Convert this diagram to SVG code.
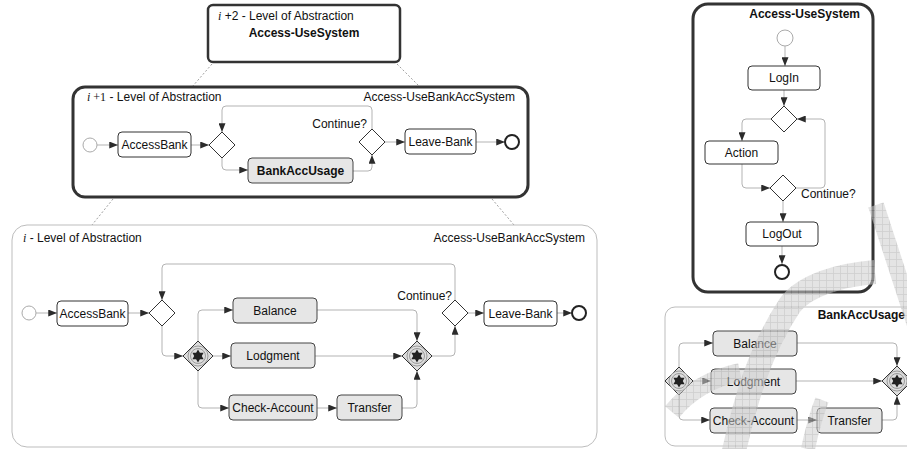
<svg xmlns="http://www.w3.org/2000/svg" width="907" height="449" viewBox="0 0 907 449">
<defs>
<marker id="ah" viewBox="0 0 10 8" refX="10" refY="4" markerWidth="9" markerHeight="7" markerUnits="userSpaceOnUse" orient="auto">
<path d="M0,0 L10,4 L0,8 z" fill="#2b2b2b"/>
</marker>
<pattern id="hatch" width="7" height="7" patternUnits="userSpaceOnUse">
<rect width="7" height="7" fill="#cfcfcf"/>
<path d="M0,0.5 H7 M0.5,0 V7" stroke="#a8a8a8" stroke-width="0.8"/>
</pattern>
<g id="star">
<circle r="10" fill="none" stroke="#9a9a9a" stroke-width="1"/>
<circle r="7.5" fill="none" stroke="#9a9a9a" stroke-width="1"/>
<polygon points="0,-6.5 1.9,-3.3 5.6,-3.3 3.8,0 5.6,3.3 1.9,3.3 0,6.5 -1.9,3.3 -5.6,3.3 -3.8,0 -5.6,-3.3 -1.9,-3.3" fill="#222"/>
</g>
</defs>
<style>
text{font-family:"Liberation Sans",Arial,sans-serif;font-size:12px;fill:#111}
.b{font-weight:bold}
.it{font-family:"Liberation Serif","Times New Roman",serif;font-style:italic}
.sf{font-family:"Liberation Serif","Times New Roman",serif}
.mid{text-anchor:middle}
.end{text-anchor:end}
.frame{fill:#fff;stroke:#333;stroke-width:3}
.lane{fill:#fff;stroke:#bdbdbd;stroke-width:1}
.task{fill:#fff;stroke:#333;stroke-width:1}
.sub{fill:#e6e6e6;stroke:#444;stroke-width:1}
.gw{fill:#fff;stroke:#333;stroke-width:1}
.pgw{fill:#dedede;stroke:#333;stroke-width:1}
.start{fill:#fff;stroke:#aaa;stroke-width:1}
.endc{fill:#fff;stroke:#222;stroke-width:2}
.c{fill:none;stroke:#b3b3b3;stroke-width:1;marker-end:url(#ah)}
.dash{stroke:#a0a0a0;stroke-width:1;stroke-dasharray:2,2}
</style>

<g id="level-links">
<line class="dash" x1="212" y1="64" x2="192" y2="87"/>
<line class="dash" x1="397" y1="64" x2="420" y2="87"/>
<line class="dash" x1="113" y1="199" x2="92" y2="225"/>
<line class="dash" x1="492" y1="199" x2="514" y2="225"/>
</g>

<g id="level-i2">
<rect x="208" y="5" width="192" height="57" rx="5" fill="#fff" stroke="#333" stroke-width="2.5"/>
<text x="218" y="20"><tspan class="it">i</tspan> +2 - Level of Abstraction</text>
<text class="b mid" x="304" y="37">Access-UseSystem</text>
</g>

<g id="level-i1">
<rect class="frame" x="73" y="87" width="455" height="110" rx="12"/>
<text x="87" y="101"><tspan class="it">i</tspan><tspan class="sf"> +1</tspan> - Level of Abstraction</text>
<text class="end" x="515" y="101">Access-UseBankAccSystem</text>
</g>
<g id="m-connectors">
<line class="c" x1="97" y1="145" x2="118" y2="145"/>
<line class="c" x1="191" y1="145" x2="209" y2="145"/>
<path class="c" d="M372,129 V110 Q372,106 368,106 H226 Q222,106 222,110 V132"/>
<path class="c" d="M222,158 V166 Q222,170 226,170 H248"/>
<path class="c" d="M353,171 H368 Q372,171 372,167 V155"/>
<line class="c" x1="385" y1="142" x2="405" y2="142"/>
<line class="c" x1="476" y1="142" x2="505" y2="142"/>
</g>
<g id="m-start"><circle class="start" cx="90" cy="145" r="7"/></g>
<g id="m-accessbank"><rect class="task" x="118" y="132" width="73" height="25" rx="4"/><text class="mid" x="154.5" y="149">AccessBank</text></g>
<g id="m-gw1"><polygon class="gw" points="222,132 235,145 222,158 209,145"/></g>
<g id="m-bankaccusage"><rect class="sub" x="248" y="158" width="105" height="25" rx="4"/><text class="b mid" x="300.5" y="175">BankAccUsage</text></g>
<g id="m-continue"><polygon class="gw" points="372,129 385,142 372,155 359,142"/><text class="end" x="367" y="128">Continue?</text></g>
<g id="m-leavebank"><rect class="task" x="405" y="129" width="71" height="25" rx="4"/><text class="mid" x="440.5" y="146">Leave-Bank</text></g>
<g id="m-end"><circle class="endc" cx="512" cy="142" r="7"/></g>

<g id="level-i">
<rect class="lane" x="12" y="225" width="585" height="222" rx="15"/>
<text x="23" y="242"><tspan class="it">i</tspan> - Level of Abstraction</text>
<text class="end" x="585" y="242">Access-UseBankAccSystem</text>
</g>
<g id="l-connectors">
<line class="c" x1="36" y1="313" x2="57" y2="313"/>
<line class="c" x1="128" y1="313" x2="149" y2="313"/>
<path class="c" d="M455,300 V268 Q455,264 451,264 H166 Q162,264 162,268 V300"/>
<path class="c" d="M162,326 V352 Q162,356 166,356 H183"/>
<path class="c" d="M198,341 V314 Q198,310 202,310 H233"/>
<line class="c" x1="213" y1="356" x2="231" y2="356"/>
<path class="c" d="M198,371 V404 Q198,408 202,408 H229"/>
<line class="c" x1="317" y1="408" x2="337" y2="408"/>
<path class="c" d="M317,310 H413 Q417,310 417,314 V341"/>
<line class="c" x1="315" y1="356" x2="402" y2="356"/>
<path class="c" d="M402,408 H413 Q417,408 417,404 V371"/>
<path class="c" d="M432,356 H451 Q455,356 455,352 V326"/>
<line class="c" x1="468" y1="313" x2="484" y2="313"/>
<line class="c" x1="557" y1="313" x2="572" y2="313"/>
</g>
<g id="l-start"><circle class="start" cx="29" cy="313" r="7"/></g>
<g id="l-accessbank"><rect class="task" x="57" y="301" width="71" height="25" rx="4"/><text class="mid" x="92.5" y="318">AccessBank</text></g>
<g id="l-gw1"><polygon class="gw" points="162,300 175,313 162,326 149,313"/></g>
<g id="l-fork"><polygon class="pgw" points="198,341 213,356 198,371 183,356"/><use href="#star" x="198" y="356"/></g>
<g id="l-balance"><rect class="sub" x="233" y="298" width="84" height="25" rx="4"/><text class="mid" x="275" y="315">Balance</text></g>
<g id="l-lodgment"><rect class="sub" x="231" y="343" width="84" height="25" rx="4"/><text class="mid" x="273" y="360">Lodgment</text></g>
<g id="l-check"><rect class="sub" x="229" y="395" width="88" height="25" rx="4"/><text class="mid" x="273" y="412">Check-Account</text></g>
<g id="l-transfer"><rect class="sub" x="337" y="395" width="65" height="25" rx="4"/><text class="mid" x="369.5" y="412">Transfer</text></g>
<g id="l-join"><polygon class="pgw" points="417,341 432,356 417,371 402,356"/><use href="#star" x="417" y="356"/></g>
<g id="l-continue"><polygon class="gw" points="455,300 468,313 455,326 442,313"/><text class="end" x="452" y="300">Continue?</text></g>
<g id="l-leavebank"><rect class="task" x="484" y="301" width="73" height="25" rx="4"/><text class="mid" x="520.5" y="318">Leave-Bank</text></g>
<g id="l-end"><circle class="endc" cx="579" cy="313" r="7"/></g>

<g id="r-frame">
<rect class="frame" x="693" y="4" width="180" height="288" rx="15"/>
<text class="b end" x="860" y="18">Access-UseSystem</text>
</g>
<g id="r-connectors">
<line class="c" x1="785" y1="46" x2="785" y2="66"/>
<line class="c" x1="784" y1="90" x2="784" y2="106"/>
<path class="c" d="M771,119 H746 Q742,119 742,123 V141"/>
<path class="c" d="M742,164 V184 Q742,188 746,188 H770"/>
<path class="c" d="M796,188 H821 Q825,188 825,184 V123 Q825,119 821,119 H797"/>
<line class="c" x1="783" y1="201" x2="783" y2="222"/>
<line class="c" x1="782" y1="246" x2="782" y2="264"/>
</g>
<g id="r-start"><circle class="start" cx="785" cy="38" r="8"/></g>
<g id="r-login"><rect class="task" x="748" y="66" width="72" height="24" rx="4"/><text class="mid" x="784" y="82">LogIn</text></g>
<g id="r-gw1"><polygon class="gw" points="784,106 797,119 784,132 771,119"/></g>
<g id="r-action"><rect class="task" x="705" y="141" width="73" height="23" rx="4"/><text class="mid" x="741.5" y="157">Action</text></g>
<g id="r-continue"><polygon class="gw" points="783,175 796,188 783,201 770,188"/><text x="801" y="198">Continue?</text></g>
<g id="r-logout"><rect class="task" x="746" y="222" width="72" height="24" rx="4"/><text class="mid" x="782" y="238">LogOut</text></g>
<g id="r-end"><circle class="endc" cx="782" cy="272" r="7"/></g>

<g id="br-frame">
<rect class="lane" x="665" y="307" width="270" height="139" rx="10"/>
<text class="b end" x="905" y="319">BankAccUsage</text>
</g>
<g id="br-connectors">
<path class="c" d="M679,367 V347 Q679,343 683,343 H713"/>
<line class="c" x1="693" y1="381" x2="711" y2="381"/>
<path class="c" d="M679,395 V416 Q679,420 683,420 H710"/>
<line class="c" x1="797" y1="420" x2="817" y2="420"/>
<path class="c" d="M797,343 H893 Q897,343 897,347 V366"/>
<line class="c" x1="796" y1="381" x2="882" y2="381"/>
<path class="c" d="M882,420 H893 Q897,420 897,416 V396"/>
</g>
<g id="br-fork"><polygon class="pgw" points="679,367 693,381 679,395 665,381"/><use href="#star" x="679" y="381"/></g>
<g id="br-balance"><rect class="sub" x="713" y="331" width="84" height="25" rx="4"/><text class="mid" x="755" y="348">Balance</text></g>
<g id="br-lodgment"><rect class="sub" x="711" y="369" width="85" height="25" rx="4"/><text class="mid" x="753.5" y="386">Lodgment</text></g>
<g id="br-check"><rect class="sub" x="710" y="408" width="87" height="25" rx="4"/><text class="mid" x="753.5" y="425">Check-Account</text></g>
<g id="br-transfer"><rect class="sub" x="817" y="408" width="65" height="25" rx="4"/><text class="mid" x="849.5" y="425">Transfer</text></g>
<g id="br-join"><polygon class="pgw" points="897,366 912,381 897,396 882,381"/><use href="#star" x="897" y="381"/></g>

<g id="watermark" opacity="0.55" fill="none" stroke="url(#hatch)">
<path d="M876,205 L915,325" stroke-width="16"/>
<path d="M732,460 C745,400 760,350 790,305 C805,285 840,275 875,272" stroke-width="24"/>
<path d="M672,412 C690,390 712,378 740,372" stroke-width="18"/>
<path d="M808,449 C812,430 816,415 822,400" stroke-width="14"/>
</g>
</svg>
